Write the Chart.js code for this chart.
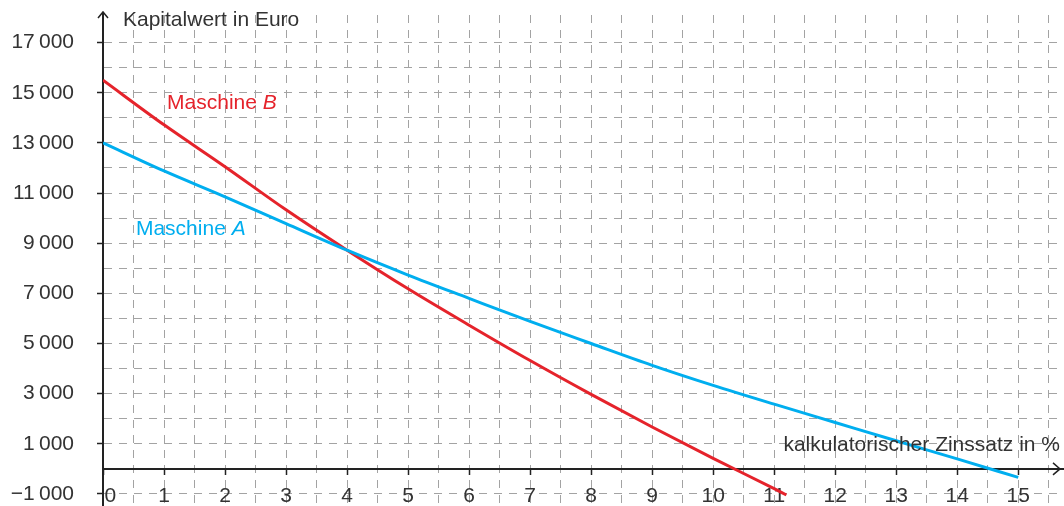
<!DOCTYPE html>
<html>
<head>
<meta charset="utf-8">
<script src="https://cdn.jsdelivr.net/npm/chart.js@4/dist/chart.umd.min.js"></script>
<style>
html, body { margin: 0; padding: 0; background: #fff; }
</style>
</head>
<body>
<canvas id="kw_chart" width="1064" height="506"></canvas>
<script>
// kalkulatorischer Zinssatz (%) und Kapitalwert (Euro)
var zinsA = [0, 1, 2, 3, 4, 5, 6, 7, 8, 9, 10, 11, 12, 13, 14, 15];
var kwA = [13000, 11880, 10850, 9780, 8720, 7730, 6800, 5880, 5000, 4130, 3330, 2580, 1850, 1120, 400, -340];
var zinsB = [0, 1, 2, 3, 4, 5, 6, 7, 8, 9, 10, 11, 11.2];
var kwB = [15500, 13720, 12050, 10330, 8720, 7180, 5730, 4320, 2970, 1670, 420, -790, -1040];
var labelA = 'Maschine ', letterA = 'A';
var labelB = 'Maschine ', letterB = 'B';
var titleY = 'Kapitalwert in Euro';
var titleX = 'kalkulatorischer Zinssatz in %';
// beschriftete Werte der y-Achse
var yLabelled = [-1000, 1000, 3000, 5000, 7000, 9000, 11000, 13000, 15000, 17000];

var FONT = '"Liberation Sans", Arial, sans-serif';
var TEXT = '#333';
var RED = '#e5232b';
var BLUE = '#00aeef';
var GRID = '#a3a3a3';

function fmtEuro(v) {
    var s = Math.abs(v).toString();
    if (s.length > 3) s = s.slice(0, -3) + '\u2009' + s.slice(-3);
    return (v < 0 ? '\u2212' : '') + s;
}

function gridTicks(from, to, step) {
    var t = [];
    for (var v = from; v <= to + 1e-9; v += step) t.push({ value: Math.round(v * 100) / 100 });
    return t;
}

var decor = {
    id: 'decor',
    afterDraw: function (chart) {
        var ctx = chart.ctx, x = chart.scales.x, y = chart.scales.y, area = chart.chartArea;
        var x0 = x.getPixelForValue(0), y0 = y.getPixelForValue(0);
        ctx.save();
        // Pfeile
        ctx.strokeStyle = '#222';
        ctx.lineWidth = 1.5;
        ctx.beginPath();
        ctx.moveTo(x0, area.top);
        ctx.lineTo(x0, 12);
        ctx.moveTo(x0 - 5, 18);
        ctx.lineTo(x0, 12);
        ctx.lineTo(x0 + 5, 18);
        ctx.moveTo(area.right - 11, y0 - 6);
        ctx.lineTo(area.right - 4, y0);
        ctx.lineTo(area.right - 11, y0 + 6);
        ctx.stroke();

        ctx.font = '21px ' + FONT;
        ctx.textBaseline = 'middle';
        ctx.fillStyle = TEXT;
        ctx.textAlign = 'left';
        ctx.fillText(titleY, x0 + 20, 20);
        ctx.textAlign = 'right';
        ctx.fillText(titleX, area.right - 4, y.getPixelForValue(960));

        ctx.textAlign = 'left';
        function label(txt, letter, vx, vy, col) {
            var px = x.getPixelForValue(vx), py = y.getPixelForValue(vy);
            ctx.fillStyle = col;
            ctx.font = '21px ' + FONT;
            ctx.fillText(txt, px, py);
            var w = ctx.measureText(txt).width;
            ctx.font = 'italic 21px ' + FONT;
            ctx.fillText(letter, px + w, py);
        }
        label(labelB, letterB, 1.05, 14580, RED);
        label(labelA, letterA, 0.54, 9550, BLUE);
        ctx.restore();
    }
};

function noPad(scale) {
    scale.paddingTop = 0;
    scale.paddingBottom = 0;
    scale.paddingLeft = 0;
    scale.paddingRight = 0;
}

var CHART = document.getElementById('kw_chart').getContext('2d');
var kw_chart = new Chart(CHART, {
    type: 'line',
    data: {
        datasets: [{
                data: zinsA.map(function (z, i) { return { x: z, y: kwA[i] }; }),
                borderColor: BLUE,
                borderWidth: 3,
                pointRadius: 0,
                cubicInterpolationMode: 'monotone'
            },
            {
                data: zinsB.map(function (z, i) { return { x: z, y: kwB[i] }; }),
                borderColor: RED,
                borderWidth: 3,
                pointRadius: 0,
                cubicInterpolationMode: 'monotone'
            }
        ]
    },
    options: {
        responsive: false,
        animation: false,
        layout: { padding: { top: 15, left: 0, right: 0, bottom: 0 } },
        plugins: { legend: { display: false }, tooltip: { enabled: false } },
        scales: {
            x: {
                type: 'linear',
                position: { y: 0 },
                min: 0,
                max: 15.75,
                afterFit: noPad,
                afterBuildTicks: function (scale) {
                    scale.ticks = gridTicks(0, 15.5, 0.5);
                },
                ticks: {
                    autoSkip: false,
                    maxRotation: 0,
                    padding: 10,
                    color: TEXT,
                    font: { family: FONT, size: 21 },
                    callback: function (v) {
                        if (v % 1 !== 0) return '';
                        return v === 0 ? '\u2002\u20090' : String(v);
                    }
                },
                grid: {
                    color: GRID,
                    lineWidth: 1,
                    tickLength: 5,
                    tickWidth: 1.5,
                    tickBorderDash: [100, 0],
                    tickColor: function (c) {
                        return (c.tick && c.tick.value % 1 === 0) ? '#222' : 'rgba(0,0,0,0)';
                    }
                },
                border: { display: true, color: '#222', width: 2, dash: [8, 7] }
            },
            y: {
                type: 'linear',
                position: 'left',
                min: -1480,
                max: 18100,
                afterFit: function (scale) {
                    noPad(scale);
                    scale.width = 103;
                },
                afterBuildTicks: function (scale) {
                    scale.ticks = gridTicks(-1000, 17000, 1000);
                },
                ticks: {
                    autoSkip: false,
                    padding: 23,
                    color: TEXT,
                    font: { family: FONT, size: 21 },
                    callback: function (v) {
                        return yLabelled.indexOf(v) >= 0 ? fmtEuro(v) : '';
                    }
                },
                grid: {
                    color: GRID,
                    lineWidth: 1,
                    tickLength: 6,
                    tickWidth: 1.5,
                    tickBorderDash: [100, 0],
                    tickColor: function (c) {
                        return (c.tick && yLabelled.indexOf(c.tick.value) >= 0) ? '#222' : 'rgba(0,0,0,0)';
                    }
                },
                border: { display: true, color: '#222', width: 2, dash: [8, 7] }
            }
        }
    },
    plugins: [decor]
});
</script>
</body>
</html>
